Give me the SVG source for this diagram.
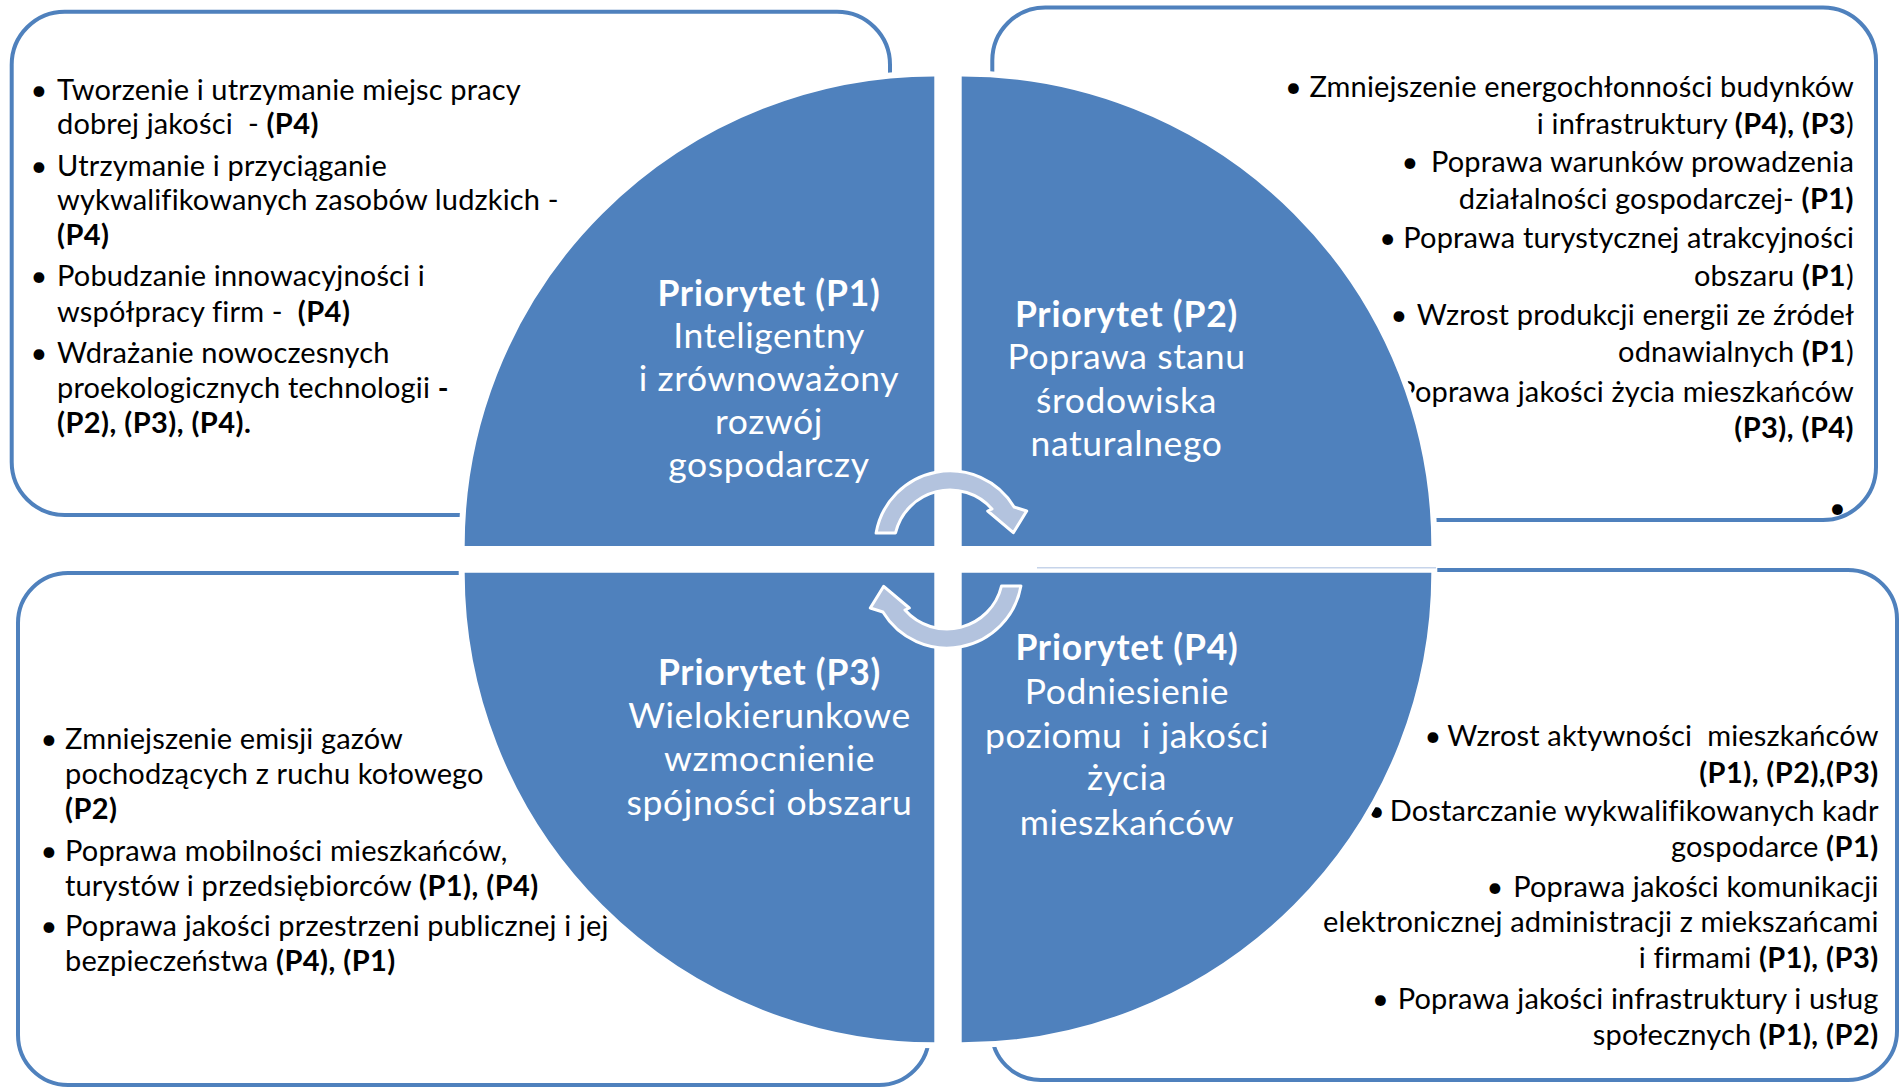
<svg xmlns="http://www.w3.org/2000/svg" width="1901" height="1087" viewBox="0 0 1901 1087">
<style>
.box{fill:none;stroke:#4F81BD;stroke-width:4}
.quad{fill:#4F81BD;stroke:#FFFFFF;stroke-width:6}
.arrow{fill:#B3C3DE;stroke:#FFFFFF;stroke-width:3;stroke-linejoin:round}
.t{font-family:Lato,"Liberation Sans",sans-serif;font-size:29px;letter-spacing:0.15px;fill:#000000}
.r{text-anchor:end}
.m{text-anchor:middle}
.b{font-weight:bold;letter-spacing:0.45px}
.lbl{font-family:Lato,"Liberation Sans",sans-serif;font-size:35.5px;letter-spacing:0.6px;fill:#FFFFFF;text-anchor:middle}
.lb{font-weight:bold;letter-spacing:0.8px}
</style>
<rect width="1901" height="1087" fill="#FFFFFF"/>

<g id="box-tl">
<rect class="box" x="11.7" y="11.7" width="878.3" height="503.3" rx="53"/>
<text class="t m" x="39" y="100">•</text>
<text class="t" x="57" y="100">Tworzenie i utrzymanie miejsc pracy</text>
<text class="t" x="57" y="134.3" xml:space="preserve">dobrej jakości  - <tspan class="b">(P4)</tspan></text>
<text class="t m" x="39" y="175.7">•</text>
<text class="t" x="57" y="175.7">Utrzymanie i przyciąganie</text>
<text class="t" x="57" y="210">wykwalifikowanych zasobów ludzkich -</text>
<text class="t b" x="57" y="245">(P4)</text>
<text class="t m" x="39" y="286">•</text>
<text class="t" x="57" y="286">Pobudzanie innowacyjności i</text>
<text class="t" x="57" y="321.7" xml:space="preserve">współpracy firm -  <tspan class="b">(P4)</tspan></text>
<text class="t m" x="39" y="363.3">•</text>
<text class="t" x="57" y="363.3">Wdrażanie nowoczesnych</text>
<text class="t" x="57" y="398.3" xml:space="preserve">proekologicznych technologii <tspan class="b">-</tspan></text>
<text class="t b" x="57" y="433.3">(P2), (P3), (P4).</text>
</g>

<g id="box-tr">
<rect class="box" x="992.3" y="7.5" width="883.7" height="512.5" rx="53"/>
<text class="t m" x="1293.4" y="97.3">•</text>
<text class="t r" x="1854" y="97.3">Zmniejszenie energochłonności budynków</text>
<text class="t r" x="1854" y="134" xml:space="preserve">i infrastruktury <tspan class="b">(P4), (P3</tspan>)</text>
<text class="t m" x="1410" y="172.3">•</text>
<text class="t r" x="1854" y="172.3">Poprawa warunków prowadzenia</text>
<text class="t r" x="1854" y="209" xml:space="preserve">działalności gospodarczej- <tspan class="b">(P1)</tspan></text>
<text class="t m" x="1387.7" y="248.3">•</text>
<text class="t r" x="1854" y="248.3">Poprawa turystycznej atrakcyjności</text>
<text class="t r" x="1854" y="285.7" xml:space="preserve">obszaru <tspan class="b">(P1</tspan>)</text>
<text class="t m" x="1399" y="325">•</text>
<text class="t r" x="1854" y="325">Wzrost produkcji energii ze źródeł</text>
<text class="t r" x="1854" y="361.7" xml:space="preserve">odnawialnych <tspan class="b">(P1</tspan>)</text>
<text class="t r" x="1854" y="401.7">Poprawa jakości życia mieszkańców</text>
<text class="t r b" x="1854" y="438.3">(P3), (P4)</text>
<text class="t m" x="1837.5" y="518">•</text>
</g>

<g id="box-bl">
<rect class="box" x="18" y="573" width="911" height="512" rx="50"/>
<text class="t m" x="49" y="749.3">•</text>
<text class="t" x="65" y="749.3">Zmniejszenie emisji gazów</text>
<text class="t" x="65" y="784">pochodzących z ruchu kołowego</text>
<text class="t b" x="65" y="819.3">(P2)</text>
<text class="t m" x="49" y="860.7">•</text>
<text class="t" x="65" y="860.7">Poprawa mobilności mieszkańców,</text>
<text class="t" x="65" y="896" xml:space="preserve">turystów i przedsiębiorców <tspan class="b">(P1), (P4)</tspan></text>
<text class="t m" x="49" y="936">•</text>
<text class="t" x="65" y="936">Poprawa jakości przestrzeni publicznej i jej</text>
<text class="t" x="65" y="970.7" xml:space="preserve">bezpieczeństwa <tspan class="b">(P4), (P1)</tspan></text>
</g>

<g id="box-br">
<rect class="box" x="991.7" y="570" width="905.3" height="510" rx="49"/>
<text class="t m" x="1433" y="746">•</text>
<text class="t r" x="1878.6" y="746" xml:space="preserve">Wzrost aktywności  mieszkańców</text>
<text class="t r b" x="1878.6" y="782.7">(P1), (P2),(P3)</text>
<text class="t m" x="1376.5" y="820.7">•</text>
<text class="t r" x="1878.6" y="820.7">Dostarczanie wykwalifikowanych kadr</text>
<text class="t r" x="1878.6" y="856.7" xml:space="preserve">gospodarce <tspan class="b">(P1)</tspan></text>
<text class="t m" x="1495" y="897.3">•</text>
<text class="t r" x="1878.6" y="897.3">Poprawa jakości komunikacji</text>
<text class="t r" x="1878.6" y="932.3">elektronicznej administracji z miekszańcami</text>
<text class="t r" x="1878.6" y="968.3" xml:space="preserve">i firmami <tspan class="b">(P1), (P3)</tspan></text>
<text class="t m" x="1380.4" y="1009.3">•</text>
<text class="t r" x="1878.6" y="1009.3">Poprawa jakości infrastruktury i usług</text>
<text class="t r" x="1878.6" y="1045" xml:space="preserve">społecznych <tspan class="b">(P1), (P2)</tspan></text>
</g>

<g id="p1">
<path class="quad" d="M937.3 549 L937.3 73.4 A472.6 472.6 0 0 0 461.7 549 Z"/>
<text class="lbl" x="769" y="305.5"><tspan class="lb">Priorytet (P1)</tspan><tspan x="769" y="347.6">Inteligentny</tspan><tspan x="769" y="390.5">i zrównoważony</tspan><tspan x="769" y="433.7">rozwój</tspan><tspan x="769" y="476.6">gospodarczy</tspan></text>
</g>
<g id="p2">
<path class="quad" d="M958.7 549 L958.7 73.4 A472.6 472.6 0 0 1 1434.3 549 Z"/>
<text class="lbl" x="1126.5" y="326.5"><tspan class="lb">Priorytet (P2)</tspan><tspan x="1126.5" y="369.4">Poprawa stanu</tspan><tspan x="1126.5" y="412.6">środowiska</tspan><tspan x="1126.5" y="455.9">naturalnego</tspan></text>
</g>
<g id="p3">
<path class="quad" d="M937.3 569.7 L461.7 569.7 A472.6 472.6 0 0 0 937.3 1045.3 Z"/>
<text class="lbl" x="769.5" y="685.1"><tspan class="lb">Priorytet (P3)</tspan><tspan x="769.5" y="727.6">Wielokierunkowe</tspan><tspan x="769.5" y="770.5">wzmocnienie</tspan><tspan x="769.5" y="814.5">spójności obszaru</tspan></text>
</g>
<g id="p4">
<path class="quad" d="M958.7 569.7 L958.7 1045.3 A472.6 472.6 0 0 0 1434.3 569.7 Z"/>
<text class="lbl" x="1127" y="660.3" xml:space="preserve"><tspan class="lb">Priorytet (P4)</tspan><tspan x="1127" y="704.3">Podniesienie</tspan><tspan x="1127" y="748.3">poziomu  i jakości</tspan><tspan x="1127" y="790.4">życia</tspan><tspan x="1127" y="834.8">mieszkańców</tspan></text>
</g>

<line x1="1037" y1="567.7" x2="1436" y2="567.7" stroke="#C6D4EA" stroke-width="1.5"/>

<g id="connectors">
<path id="arrow-top" class="arrow" d="M895.5 533 A56 56 0 0 1 992 509 L987.7 511 L1013.3 532.7 L1026.7 511 L1014.1 507 A75 75 0 0 0 876.1 533 Z"/>
<path id="arrow-bottom" class="arrow" transform="rotate(180 948.5 559.5)" d="M895.5 533 A56 56 0 0 1 992 509 L987.7 511 L1013.3 532.7 L1026.7 511 L1014.1 507 A75 75 0 0 0 876.1 533 Z"/>
</g>
</svg>
